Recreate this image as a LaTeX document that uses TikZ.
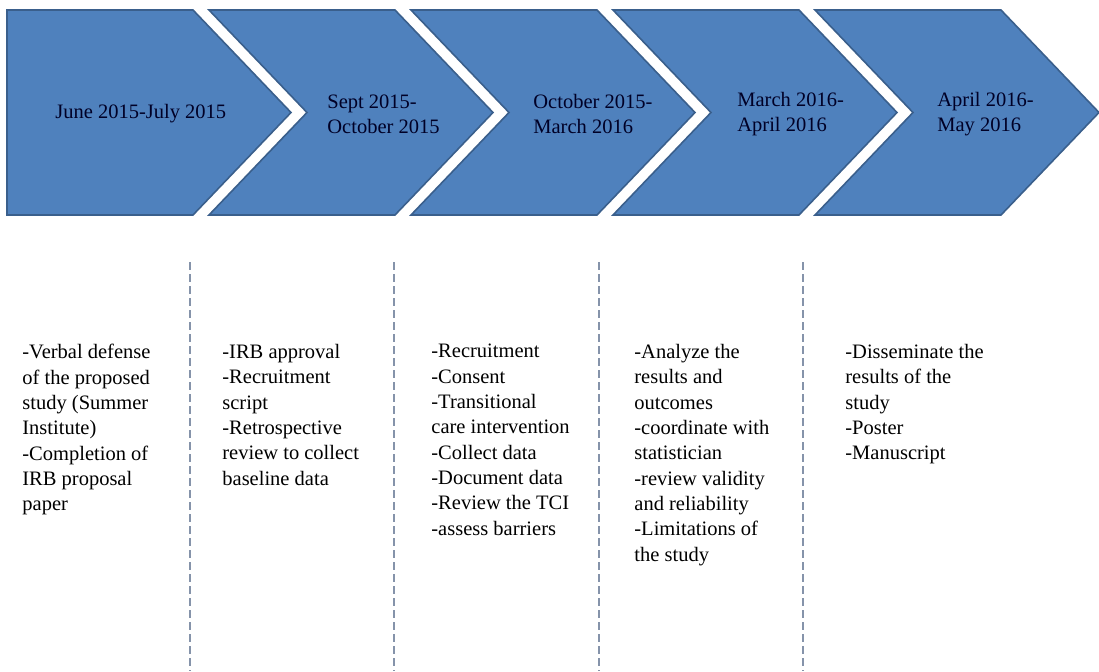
\documentclass[tikz,border=0pt]{standalone}
\usepackage{fontspec}
\setmainfont{Liberation Serif}

\definecolor{chevfill}{HTML}{4F81BD}
\definecolor{chevline}{HTML}{3A5F8C}
\definecolor{sepline}{HTML}{8593AA}

\tikzset{
	chevron/.style={fill=chevfill, draw=chevline, line width=0.8pt, line join=miter},
	datelabel/.style={anchor=west, align=left, inner sep=0pt, text=black!85!blue,
		font=\fontsize{10.25}{12.65}\selectfont},
	tasklist/.style={anchor=north west, align=left, inner sep=0pt,
		font=\fontsize{10.25}{12.65}\selectfont},
	divider/.style={sepline, line width=1pt, dash pattern=on 3.85pt off 2.15pt}
}

\begin{document}
\begin{tikzpicture}[x=0.5pt, y=-0.5pt]
	\useasboundingbox (0,0) rectangle (1099,671);
	% chevrons, the first one has a flat back
	\foreach \i in {0,...,4} {
		\pgfmathsetmacro\L{7+202*\i}
		\pgfmathsetmacro\n{ifthenelse(\i==0,0,98)}
		\draw[chevron] (\L,10) -- ({\L+186},10) -- ({\L+284},112.5) -- ({\L+186},215)
			-- (\L,215) -- ({\L+\n},112.5) -- cycle;
	}
	\node[datelabel] (date1) at (55,114) {June 2015-July 2015};
	\node[datelabel] (date2) at (327,114) {Sept 2015-\\October 2015};
	\node[datelabel] (date3) at (533,114) {October 2015-\\March 2016};
	\node[datelabel] (date4) at (737,114) {March 2016-\\April 2016};
	\node[datelabel] (date5) at (937,114) {April 2016-\\May 2016};
	% dashed separators
	\foreach \x in {190,394,599,803} \draw[divider] (\x,262) -- (\x,671);
	\node[tasklist] (tasks1) at (22,344) {-Verbal defense\\of the proposed\\study (Summer\\Institute)\\-Completion of\\IRB proposal\\paper};
	\node[tasklist] (tasks2) at (222,344) {-IRB approval\\-Recruitment\\script\\-Retrospective\\review to collect\\baseline data};
	\node[tasklist] (tasks3) at (431,344) {-Recruitment\\-Consent\\-Transitional\\care intervention\\-Collect data\\-Document data\\-Review the TCI\\-assess barriers};
	\node[tasklist] (tasks4) at (634,344) {-Analyze the\\results and\\outcomes\\-coordinate with\\statistician\\-review validity\\and reliability\\-Limitations of\\the study};
	\node[tasklist] (tasks5) at (845,344) {-Disseminate the\\results of the\\study\\-Poster\\-Manuscript};
\end{tikzpicture}
\end{document}
